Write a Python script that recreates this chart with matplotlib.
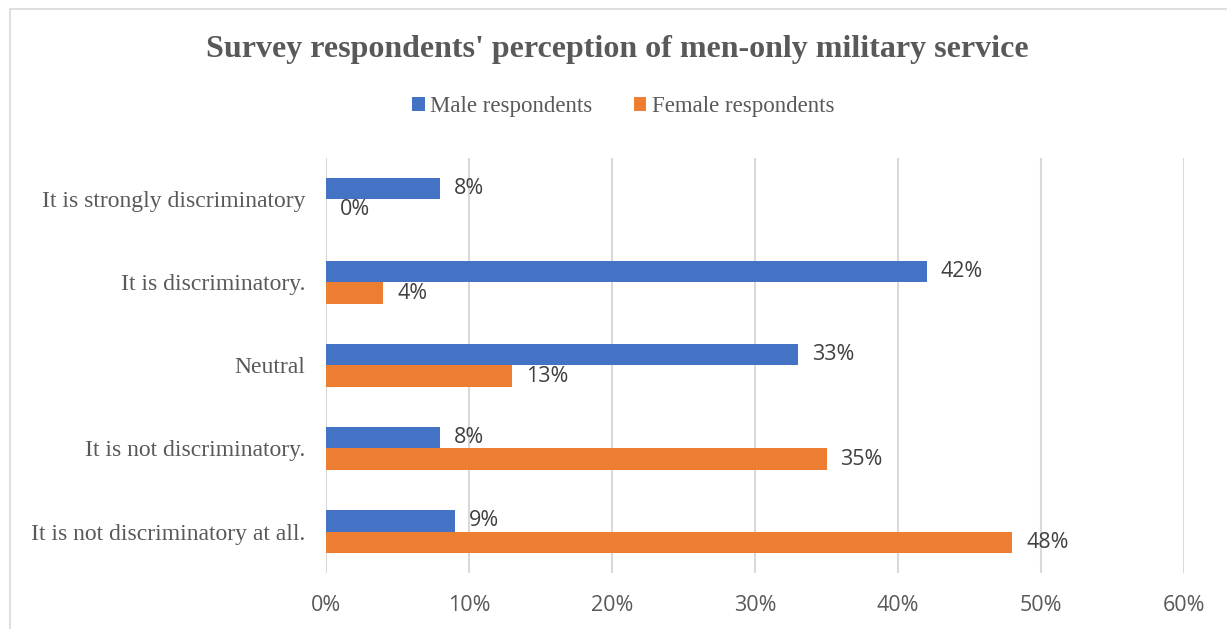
import matplotlib.pyplot as plt
import numpy as np
from matplotlib.patches import Rectangle

# data
categories = ['It is strongly discriminatory', 'It is discriminatory.', 'Neutral',
              'It is not discriminatory.', 'It is not discriminatory at all.']
male = [8, 42, 33, 8, 9]
female = [0, 4, 13, 35, 48]
xticks = [0, 10, 20, 30, 40, 50, 60]

blue = '#4472C4'
orange = '#ED7D31'
grey_txt = '#595959'

fig = plt.figure(figsize=(12.27, 6.29), dpi=100)
ax = fig.add_axes([0.2657, 0.089, 0.6993, 0.66])

# chart border
fig.patches.append(Rectangle((0.008, -0.01), 1.0, 0.995, transform=fig.transFigure,
                             fill=False, edgecolor='#D9D9D9', linewidth=1.2))

y = np.arange(len(categories))
h = 0.255
ax.barh(y - h / 2, male, height=h, color=blue, label='Male respondents', zorder=3)
ax.barh(y + h / 2, female, height=h, color=orange, label='Female respondents', zorder=3)

for yi, v in zip(y, male):
    ax.annotate(f'{v}%', (v, yi - h / 2), xytext=(10, 0), textcoords='offset points',
                va='center', ha='left', fontsize=15.5, color='#404040', family='Open Sans')
for yi, v in zip(y, female):
    ax.annotate(f'{v}%', (v, yi + h / 2), xytext=(10, 0), textcoords='offset points',
                va='center', ha='left', fontsize=15.5, color='#404040', family='Open Sans')

ax.set_ylim(len(categories) - 0.5, -0.5)
ax.set_xlim(0, 60)
ax.set_xticks(xticks)
ax.set_xticklabels([f'{t}%' for t in xticks], fontsize=15.5, color=grey_txt, family='Open Sans')
ax.set_yticks(y)
ax.set_yticklabels(categories, fontsize=17, color=grey_txt, family='Liberation Serif')
ax.tick_params(length=0, axis='both')
ax.tick_params(axis='x', pad=16)
ax.tick_params(axis='y', pad=15)
ax.grid(axis='x', color='#D9D9D9', linewidth=1.5, zorder=0)
for s in ax.spines.values():
    s.set_visible(False)

fig.text(0.503, 0.921, "Survey respondents' perception of men-only military service",
         ha='center', va='center', fontsize=23, fontweight='bold', color=grey_txt,
         family='Liberation Serif')
leg = fig.legend(loc='center', bbox_to_anchor=(0.508, 0.831), ncol=2, frameon=False,
                 prop={'family': 'Liberation Serif', 'size': 16.5}, handlelength=0.55,
                 handleheight=0.55, handletextpad=0.25, columnspacing=1.8)
for t in leg.get_texts():
    t.set_color(grey_txt)

fig.savefig('out.png', dpi=100)
